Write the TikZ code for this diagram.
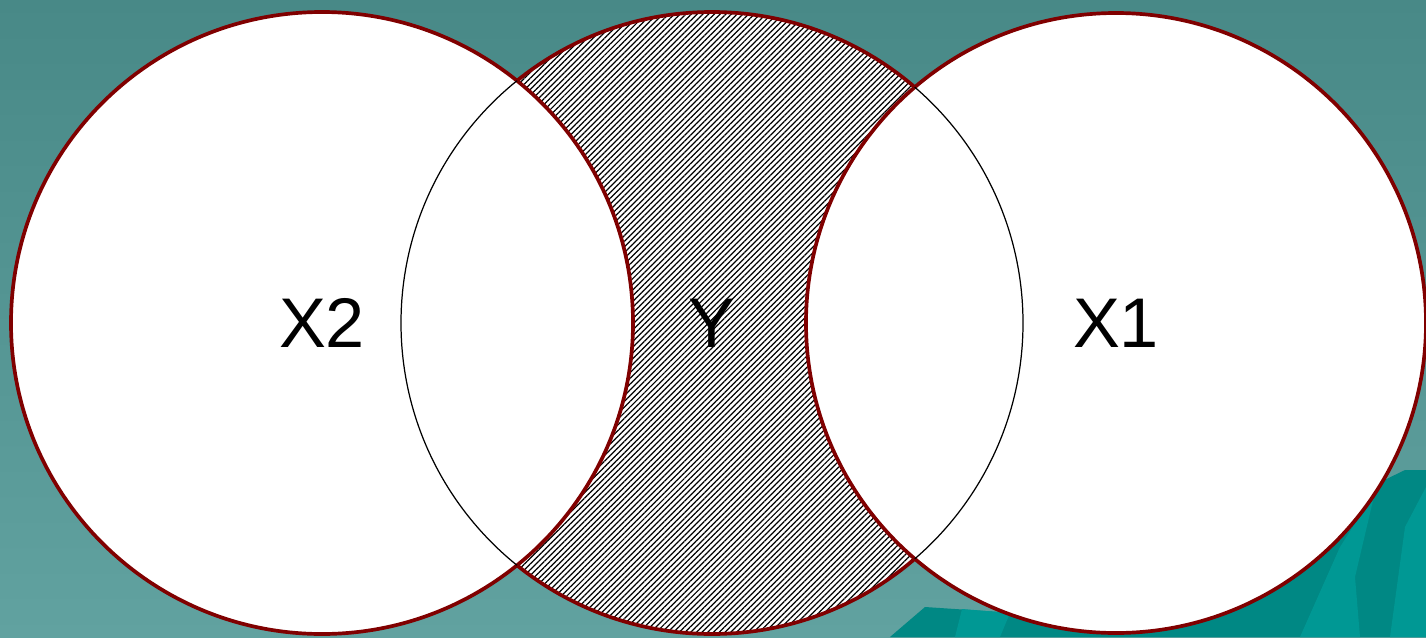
\documentclass[tikz,border=0pt]{standalone}
\usepackage{fontspec}
\setmainfont{Liberation Sans}
\usetikzlibrary{patterns.meta}
\definecolor{bgtop}{RGB}{72,137,135}
\definecolor{bgbot}{RGB}{97,162,160}
\definecolor{rim}{RGB}{128,0,0}
\definecolor{seaA}{RGB}{0,152,148}
\definecolor{seaB}{RGB}{0,136,132}
\tikzset{setc/.style={draw=rim,line width=1.05pt,fill=white},
         inner/.style={draw=black,line width=0.35pt},
         hatch/.style={pattern={Lines[angle=45,distance=1.15pt,line width=0.35pt]},pattern color=black},
         lbl/.style={font=\fontsize{20}{24}\selectfont,inner sep=0pt}}

\begin{document}
\begin{tikzpicture}
\useasboundingbox (0,0) rectangle (14.26,6.37);
\def\rr{3.11}
% background
\fill[top color=bgtop,bottom color=bgbot] (0,0) rectangle (14.26,6.37);
\fill[seaB] (8.90,0) -- (9.25,0.30) -- (10.00,0.25) -- (12.60,0.38)
   -- (13.70,1.50) -- (14.05,1.67) -- (14.26,1.67) -- (14.26,0) -- cycle;
\fill[seaA] (9.55,0) -- (9.62,0.28) -- (10.10,0.24) -- (10.00,0) -- cycle;
\fill[seaA] (13.00,0) -- (13.40,0.90) -- (13.75,1.45) -- (13.55,0.60) -- (13.60,0) -- cycle;
\fill[seaA] (13.90,0) -- (14.05,1.10) -- (14.26,1.50) -- (14.26,0) -- cycle;
% centres
\coordinate (cx2) at (3.22,3.14);
\coordinate (cy)  at (7.12,3.14);
\coordinate (cx1) at (11.16,3.14);
% middle set, hatched
\fill[white] (cy) circle (\rr);
\fill[hatch] (cy) circle (\rr);
\draw[rim,line width=1.05pt] (cy) circle (\rr);
% outer sets
\draw[setc] (cx2) circle (\rr);
\draw[setc] (cx1) circle (3.10);
% Y rim inside X2 and X1
\begin{scope}
  \clip (cx2) circle (\rr);
  \draw[inner] (cy) circle (\rr);
\end{scope}
\begin{scope}
  \clip (cx1) circle (3.10);
  \draw[inner] (cy) circle (\rr);
\end{scope}
% labels
\node[lbl] (lx2) at (cx2) {X2};
\node[lbl] (ly)  at (cy)  {Y};
\node[lbl] (lx1) at (cx1) {X1};
\end{tikzpicture}
\end{document}
